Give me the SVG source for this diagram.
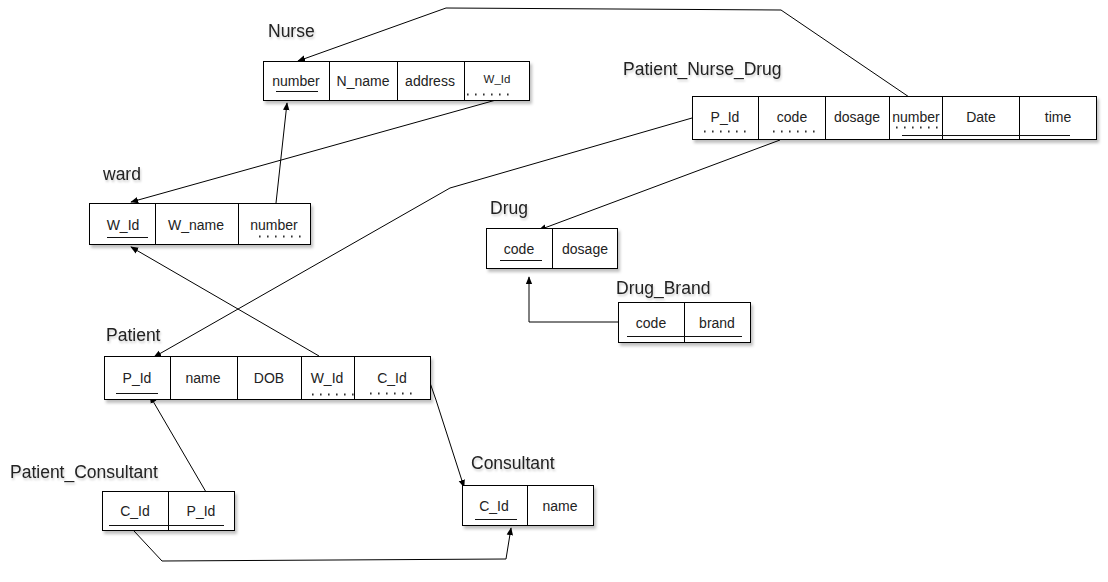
<svg xmlns="http://www.w3.org/2000/svg" width="1108" height="582" viewBox="0 0 1108 582">
<style>
.bg{fill:#fff}
.box{fill:#fff;stroke:#000;stroke-width:1}
.div{stroke:#000;stroke-width:1}
.t{font-family:"Liberation Sans",Arial,sans-serif;font-size:14px;fill:#222;text-anchor:middle}
.ts{font-family:"Liberation Sans",Arial,sans-serif;font-size:11.5px;fill:#222;text-anchor:middle}
.title{font-family:"Liberation Sans",Arial,sans-serif;font-size:17.5px;fill:#222}
.ul{stroke:#111;stroke-width:1.2}
.dot{stroke:#333;stroke-width:2;stroke-dasharray:1.6 6.4}
.conn{fill:none;stroke:#000;stroke-width:1}
</style>
<defs>
<filter id="sh" x="-10%" y="-20%" width="130%" height="160%">
<feDropShadow dx="2" dy="3" stdDeviation="1.5" flood-color="#000" flood-opacity="0.25"/>
</filter>
<filter id="tsh" x="-10%" y="-30%" width="130%" height="170%">
<feDropShadow dx="1" dy="2" stdDeviation="1.2" flood-color="#000" flood-opacity="0.2"/>
</filter>
<marker id="arr" viewBox="0 0 10 10" refX="9" refY="5" markerWidth="8" markerHeight="8" markerUnits="userSpaceOnUse" orient="auto">
<path d="M0,1 L10,5 L0,9 Z" fill="#000"/>
</marker>
</defs>
<rect class="bg" x="0" y="0" width="1108" height="582"/>

<g id="connectors">
<polyline class="conn" points="912,99 781,10 446,8 298,61" marker-end="url(#arr)"/>
<line class="conn" x1="496" y1="100" x2="131" y2="202" marker-end="url(#arr)"/>
<line class="conn" x1="276" y1="203" x2="287" y2="103" marker-end="url(#arr)"/>
<polyline class="conn" points="692,118 450,188 154,357" marker-end="url(#arr)"/>
<line class="conn" x1="319" y1="356" x2="131" y2="247" marker-end="url(#arr)"/>
<line class="conn" x1="780" y1="140" x2="539" y2="230" marker-end="url(#arr)"/>
<polyline class="conn" points="618,322 529,322 529,277" marker-end="url(#arr)"/>
<polyline class="conn" points="428,377 436,400 464,487" marker-end="url(#arr)"/>
<line class="conn" x1="206" y1="492" x2="150" y2="396" marker-end="url(#arr)"/>
<polyline class="conn" points="134,531 162,561 506,559 511,528" marker-end="url(#arr)"/>
</g>

<g id="nurse">
<text class="title" x="268" y="37" filter="url(#tsh)">Nurse</text>
<rect class="box" x="263.5" y="61.5" width="266" height="39" filter="url(#sh)"/>
<line class="div" x1="329.5" y1="61.5" x2="329.5" y2="100.5"/>
<line class="div" x1="397.5" y1="61.5" x2="397.5" y2="100.5"/>
<line class="div" x1="464.5" y1="61.5" x2="464.5" y2="100.5"/>
<text class="t" x="296" y="86">number</text>
<text class="t" x="363" y="86">N_name</text>
<text class="t" x="430" y="86">address</text>
<text class="ts" x="497" y="83">W_Id</text>
<line class="ul" x1="276" y1="91.5" x2="318" y2="91.5"/>
<line class="dot" x1="467" y1="94.5" x2="509" y2="94.5"/>
</g>

<g id="patient_nurse_drug">
<text class="title" x="623" y="75" filter="url(#tsh)">Patient_Nurse_Drug</text>
<rect class="box" x="692.5" y="96.5" width="404" height="43" filter="url(#sh)"/>
<line class="div" x1="758.5" y1="96.5" x2="758.5" y2="139.5"/>
<line class="div" x1="825.5" y1="96.5" x2="825.5" y2="139.5"/>
<line class="div" x1="889.5" y1="96.5" x2="889.5" y2="139.5"/>
<line class="div" x1="942.5" y1="96.5" x2="942.5" y2="139.5"/>
<line class="div" x1="1019.5" y1="96.5" x2="1019.5" y2="139.5"/>
<text class="t" x="725" y="122">P_Id</text>
<text class="t" x="792" y="122">code</text>
<text class="t" x="857" y="122">dosage</text>
<text class="t" x="916" y="122">number</text>
<text class="t" x="981" y="122">Date</text>
<text class="t" x="1058" y="122">time</text>
<line class="dot" x1="704" y1="131.5" x2="746" y2="131.5"/>
<line class="dot" x1="773" y1="131.5" x2="815" y2="131.5"/>
<line class="dot" x1="896" y1="127.5" x2="938" y2="127.5"/>
<line class="ul" x1="902" y1="135.5" x2="1070" y2="135.5"/>
</g>

<g id="ward">
<text class="title" x="103" y="180" filter="url(#tsh)">ward</text>
<rect class="box" x="89.5" y="203.5" width="221" height="41" filter="url(#sh)"/>
<line class="div" x1="155.5" y1="203.5" x2="155.5" y2="244.5"/>
<line class="div" x1="238.5" y1="203.5" x2="238.5" y2="244.5"/>
<text class="t" x="123" y="230">W_Id</text>
<text class="t" x="196" y="230">W_name</text>
<text class="t" x="274" y="230">number</text>
<line class="ul" x1="107" y1="237.5" x2="148" y2="237.5"/>
<line class="dot" x1="259" y1="236.5" x2="301" y2="236.5"/>
</g>

<g id="drug">
<text class="title" x="490" y="214" filter="url(#tsh)">Drug</text>
<rect class="box" x="486.5" y="228.5" width="131" height="40" filter="url(#sh)"/>
<line class="div" x1="552.5" y1="228.5" x2="552.5" y2="268.5"/>
<text class="t" x="519" y="254">code</text>
<text class="t" x="585" y="254">dosage</text>
<line class="ul" x1="500" y1="260.5" x2="542" y2="260.5"/>
</g>

<g id="drug_brand">
<text class="title" x="616" y="294" filter="url(#tsh)">Drug_Brand</text>
<rect class="box" x="618.5" y="302.5" width="132" height="40" filter="url(#sh)"/>
<line class="div" x1="684.5" y1="302.5" x2="684.5" y2="342.5"/>
<text class="t" x="651" y="328">code</text>
<text class="t" x="717" y="328">brand</text>
<line class="ul" x1="627" y1="336.5" x2="742" y2="336.5"/>
</g>

<g id="patient">
<text class="title" x="106" y="341" filter="url(#tsh)">Patient</text>
<rect class="box" x="104.5" y="356.5" width="326" height="43" filter="url(#sh)"/>
<line class="div" x1="170.5" y1="356.5" x2="170.5" y2="399.5"/>
<line class="div" x1="237.5" y1="356.5" x2="237.5" y2="399.5"/>
<line class="div" x1="301.5" y1="356.5" x2="301.5" y2="399.5"/>
<line class="div" x1="354.5" y1="356.5" x2="354.5" y2="399.5"/>
<text class="t" x="137" y="383">P_Id</text>
<text class="t" x="203" y="383">name</text>
<text class="t" x="269" y="383">DOB</text>
<text class="t" x="327" y="383">W_Id</text>
<text class="t" x="392" y="383">C_Id</text>
<line class="ul" x1="116" y1="393.5" x2="158" y2="393.5"/>
<line class="dot" x1="312" y1="394.5" x2="354" y2="394.5"/>
<line class="dot" x1="370" y1="393.5" x2="412" y2="393.5"/>
</g>

<g id="patient_consultant">
<text class="title" x="10" y="478" filter="url(#tsh)">Patient_Consultant</text>
<rect class="box" x="102.5" y="491.5" width="132" height="39" filter="url(#sh)"/>
<line class="div" x1="168.5" y1="491.5" x2="168.5" y2="530.5"/>
<text class="t" x="135" y="516">C_Id</text>
<text class="t" x="201" y="516">P_Id</text>
<line class="ul" x1="109" y1="525.5" x2="224" y2="525.5"/>
</g>

<g id="consultant">
<text class="title" x="471" y="469" filter="url(#tsh)">Consultant</text>
<rect class="box" x="462.5" y="485.5" width="131" height="40" filter="url(#sh)"/>
<line class="div" x1="527.5" y1="485.5" x2="527.5" y2="525.5"/>
<text class="t" x="494" y="511">C_Id</text>
<text class="t" x="560" y="511">name</text>
<line class="ul" x1="475" y1="519.5" x2="517" y2="519.5"/>
</g>
</svg>
